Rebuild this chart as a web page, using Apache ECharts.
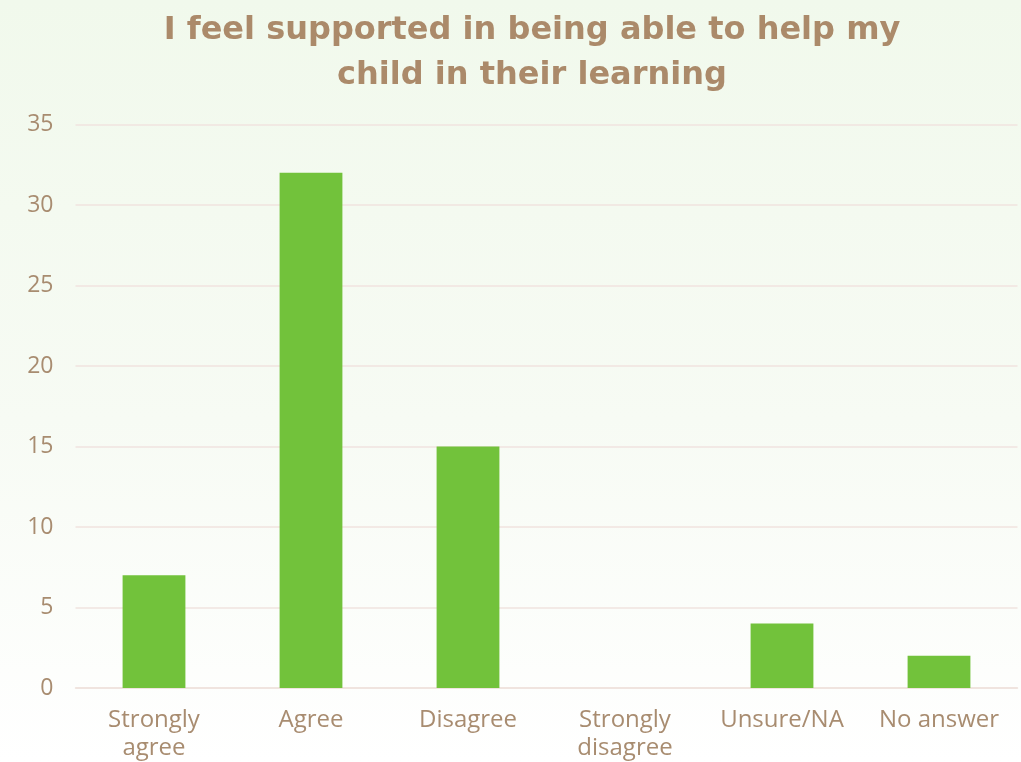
<!DOCTYPE html>
<html>
<head>
<meta charset="utf-8">
<script src="https://cdn.jsdelivr.net/npm/echarts@6/dist/echarts.min.js"></script>
<style>
html,body{margin:0;padding:0;}
#chart{width:1021px;height:762px;}
</style>
</head>
<body>
<div id="chart"></div>
<script>
const titleText = 'I feel supported in being able to help my\nchild in their learning';
const categories = ['Strongly\nagree', 'Agree', 'Disagree', 'Strongly\ndisagree', 'Unsure/NA', 'No answer'];
const values = [7, 32, 15, 0, 4, 2];
const yTicks = [0, 5, 10, 15, 20, 25, 30, 35];

const chart = echarts.init(document.getElementById('chart'));
chart.setOption({
  backgroundColor: {
    type: 'linear', x: 0, y: 0, x2: 0, y2: 1,
    colorStops: [
      {offset: 0, color: '#f1f9ec'},
      {offset: 0.55, color: '#f7fbf4'},
      {offset: 1, color: '#ffffff'}
    ]
  },
  title: {
    text: titleText,
    left: 527,
    textAlign: 'center',
    top: 3,
    textStyle: {
      fontFamily: '"DejaVu Sans", sans-serif',
      fontWeight: 'bold',
      fontSize: 32,
      lineHeight: 45,
      color: '#ab8a6a'
    }
  },
  grid: {left: 75.5, right: 3.5, top: 124.5, bottom: 74, containLabel: false, outerBoundsMode: 'none'},
  xAxis: {
    type: 'category',
    data: categories,
    axisLine: {lineStyle: {color: '#eee2dd', width: 1.5}},
    axisTick: {show: false},
    axisLabel: {
      color: '#a88c70',
      fontSize: 24,
      lineHeight: 28,
      margin: 18,
      fontFamily: '"Open Sans", sans-serif',
      interval: 0
    }
  },
  yAxis: {
    type: 'value',
    min: 0, max: 35, interval: 5,
    axisLine: {show: false},
    axisTick: {show: false},
    splitLine: {lineStyle: {color: '#f0e3df', width: 1.5}},
    axisLabel: {
      color: '#a88c70',
      fontSize: 23,
      margin: 22,
      fontFamily: '"Open Sans", sans-serif',
      formatter: v => yTicks.includes(v) ? String(v) : ''
    }
  },
  series: [{
    type: 'bar',
    data: values,
    barWidth: '40%',
    itemStyle: {color: '#72c23b'}
  }]
});
</script>
</body>
</html>
